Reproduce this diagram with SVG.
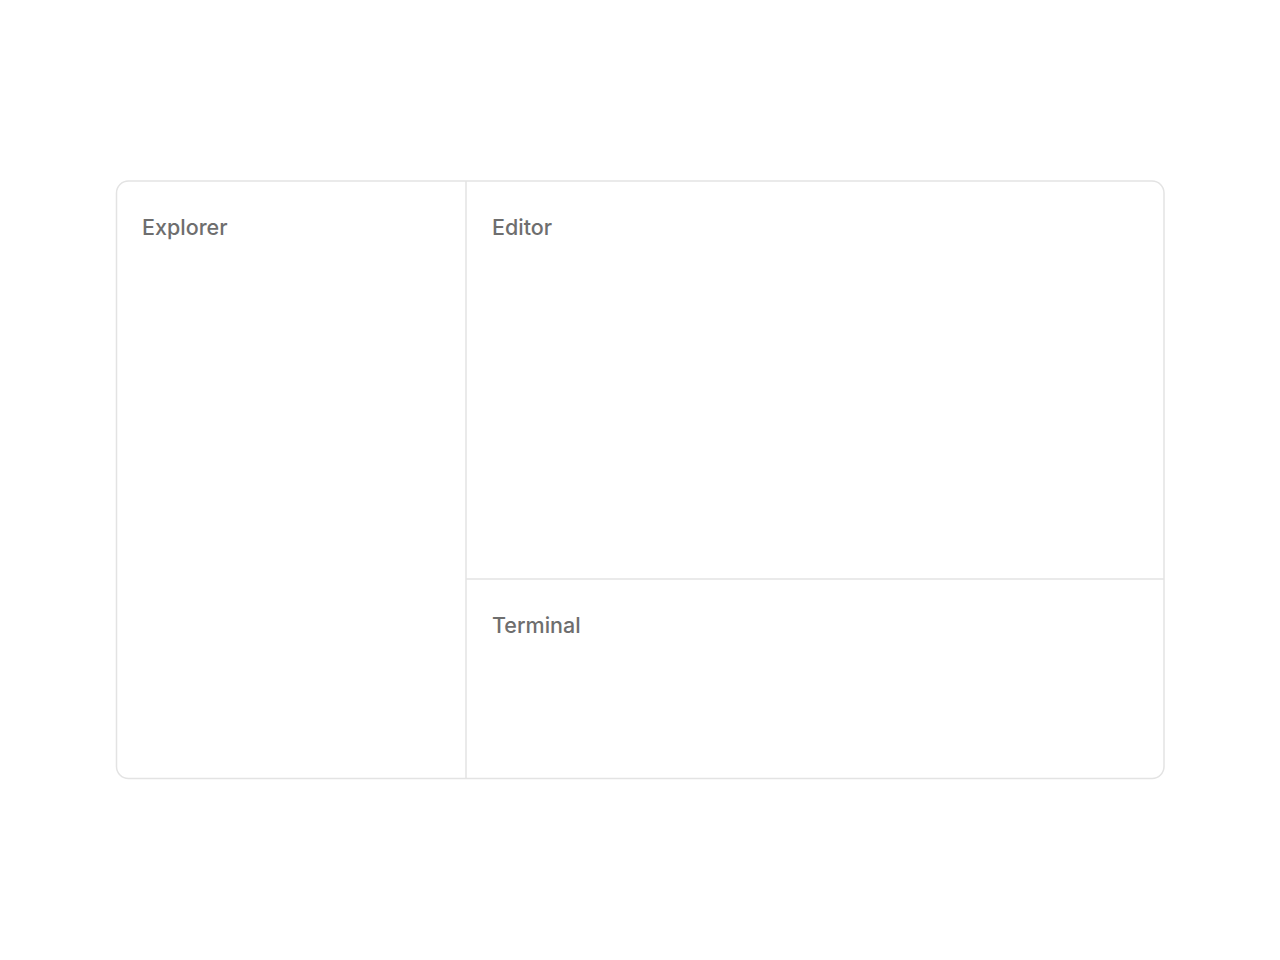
<svg xmlns="http://www.w3.org/2000/svg" width="1280" height="960" viewBox="0 0 1280 960">
<style>
.line{stroke:#e3e3e3;stroke-width:1.5;fill:none}
.lbl{font-family:Inter,"Noto Sans","Liberation Sans",sans-serif;font-size:21.5px;font-weight:500;fill:#6e6e6e}
</style>
<rect width="1280" height="960" fill="#ffffff"/>
<g id="frame"><rect class="line" x="116.5" y="181" width="1047.5" height="597.5" rx="12" fill="#ffffff"/></g>
<g id="connectors">
<line class="line" x1="466" y1="181" x2="466" y2="778.5"/>
<line class="line" x1="466" y1="579" x2="1164" y2="579"/>
</g>
<g id="explorer"><text class="lbl" x="142" y="235">Explorer</text></g>
<g id="editor"><text class="lbl" x="492" y="235">Editor</text></g>
<g id="terminal"><text class="lbl" x="492" y="633">Terminal</text></g>
</svg>
